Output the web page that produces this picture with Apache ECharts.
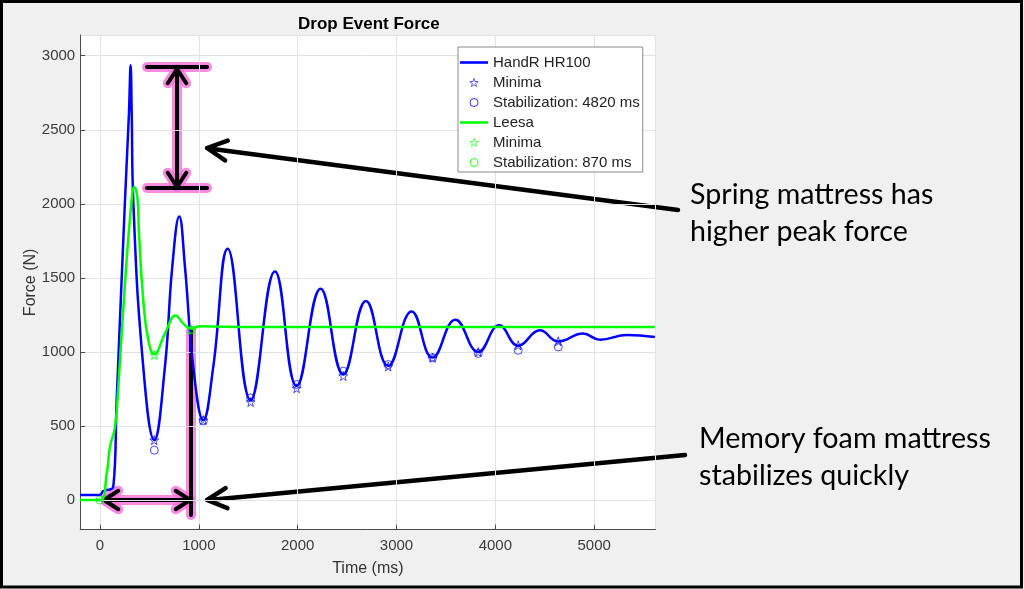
<!DOCTYPE html>
<html><head><meta charset="utf-8">
<script src="https://cdn.jsdelivr.net/npm/echarts@6/dist/echarts.min.js"></script>
<style>html,body{margin:0;padding:0;background:#f0f0f0}#c{width:1024px;height:589px}</style>
</head><body><div id="c"></div>
<script>
// HandR HR100 force curve (time ms, force N)
const hrTime = [-200, 0, 30, 135, 169, 253, 293, 310, 321, 337, 438, 549, 657, 731, 802, 860, 944, 1045, 1146, 1292, 1524, 1770, 1990, 2232, 2461, 2691, 2916, 3153, 3365, 3596, 3827, 4039, 4231, 4451, 4636, 4886, 5058, 5331, 5614];
const hrForce = [34, 34, 60, 90, 674, 2023, 2609, 2935, 2609, 2023, 899, 405, 899, 1573, 1915, 1573, 899, 539, 899, 1697, 675, 1544, 770, 1427, 850, 1344, 905, 1274, 962, 1218, 1000, 1180, 1042, 1146, 1070, 1124, 1083, 1115, 1101];
// HandR minima and stabilization markers
const hrMinT = [549, 1045, 1524, 1990, 2461, 2916, 3365, 3827, 4231, 4636];
const hrMinF = [405, 540, 662, 755, 838, 902, 960, 1000, 1045, 1072];
const hrStabT = [549, 1045, 1524, 1990, 2461, 2916, 3365, 3827, 4231, 4636];
const hrStabF = [337, 535, 690, 780, 870, 915, 962, 990, 1011, 1034];
// Leesa force curve
const leTime = [-200, 0, 68, 101, 152, 185, 253, 320, 347, 378, 395, 438, 489, 549, 657, 765, 843, 921, 1012, 1500, 2500, 3500, 4500, 5614];
const leForce = [0, 0, 180, 360, 494, 764, 1463, 2023, 2113, 2045, 1798, 1349, 1079, 984, 1124, 1247, 1191, 1158, 1173, 1168, 1168, 1168, 1168, 1168];
const leMinT = [549, 925];
const leMinF = [980, 1150];
const leStabT = [0, 925];
const leStabF = [0, 1150];
// legend names
const legendNames = ['HandR HR100', 'Minima', 'Stabilization: 4820 ms', 'Leesa', 'Minima ', 'Stabilization: 870 ms'];

const zip = (a, b) => a.map((v, i) => [v, b[i]]);
const BLUE = '#0000ff', GREEN = '#00ff00';
const starPath = 'path://M10,0L12.35,6.76L19.51,6.91L13.8,11.24L15.88,18.09L10,14L4.12,18.09L6.2,11.24L0.49,6.91L7.65,6.76Z';
const linePath = 'path://M0,0L28,0L28,2.6L0,2.6Z';

function seg(x1, y1, x2, y2, stroke, w) {
  return { type: 'line', shape: { x1, y1, x2, y2 }, style: { stroke, lineWidth: w, lineCap: 'round' }, silent: true };
}
function poly(pts, stroke, w) {
  return { type: 'polyline', shape: { points: pts }, style: { stroke, lineWidth: w, lineCap: 'round', lineJoin: 'round', fill: null }, silent: true };
}
function head(tx, ty, fx, fy, len, ang) {
  const dx = fx - tx, dy = fy - ty, L = Math.hypot(dx, dy);
  const ux = dx / L, uy = dy / L, a = ang * Math.PI / 180;
  const c = Math.cos(a), s = Math.sin(a);
  return [[tx + len * (ux * c - uy * s), ty + len * (ux * s + uy * c)], [tx, ty], [tx + len * (ux * c + uy * s), ty + len * (-ux * s + uy * c)]];
}
const PINK = 'rgba(245,110,215,0.8)';
const glowShapes = [];
function glowSeg(x1, y1, x2, y2) { glowShapes.push({ kind: 'seg', p: [x1, y1, x2, y2] }); }
function glowPoly(pts) { glowShapes.push({ kind: 'poly', p: pts }); }
// bracket 1 (peak difference)
glowSeg(147, 67, 207, 67); glowSeg(147, 188, 207, 188); glowSeg(177, 70, 177, 186);
glowPoly(head(177, 69, 177, 188, 17, 33)); glowPoly(head(177, 187, 177, 67, 17, 33));
// bracket 2 (stabilization time)
glowSeg(105, 500, 190, 500); glowSeg(191, 331, 191, 515);
glowPoly(head(104, 500, 191, 500, 17, 33)); glowPoly(head(190, 500, 104, 500, 17, 33));

const graphics = [];
glowShapes.forEach(g => {
  if (g.kind === 'seg') graphics.push(seg(g.p[0], g.p[1], g.p[2], g.p[3], PINK, 10));
  else graphics.push(poly(g.p, PINK, 10));
});
glowShapes.forEach(g => {
  if (g.kind === 'seg') graphics.push(seg(g.p[0], g.p[1], g.p[2], g.p[3], '#000', 4));
  else graphics.push(poly(g.p, '#000', 4));
});
// black pointer arrows
graphics.push(seg(209, 148.5, 678, 210, '#000', 4.5));
graphics.push(poly(head(207, 148, 678, 210, 22, 27), '#000', 4.5));
graphics.push(seg(209, 500, 685, 455, '#000', 4.5));
graphics.push(poly(head(207, 500, 685, 455, 22, 27), '#000', 4.5));
// annotation texts
graphics.push({ type: 'text', x: 690, y: 176, silent: true, style: { text: 'Spring mattress has\nhigher peak force', font: '28.6px Lato', lineHeight: 37, fill: '#000' } });
graphics.push({ type: 'text', x: 699, y: 420, silent: true, style: { text: 'Memory foam mattress\nstabilizes quickly', font: '28.7px Lato', lineHeight: 37, fill: '#000' } });
// outer frame
graphics.push({ type: 'rect', shape: { x: 1.5, y: 1.5, width: 1020, height: 585.5 }, style: { fill: null, stroke: '#000', lineWidth: 3 }, silent: true });

const axisCol = '#4a4a4a';
const noComma = v => String(v);
const hollow = (c, w) => ({ color: 'rgba(255,255,255,0)', borderColor: c, borderWidth: w });
const chart = echarts.init(document.getElementById('c'), null, { renderer: 'canvas' });
chart.setOption({
  animation: false,
  backgroundColor: '#f0f0f0',
  title: { text: 'Drop Event Force', left: 293, top: 11, textStyle: { fontFamily: 'Liberation Sans', fontSize: 17, fontWeight: 'bold', color: '#000' } },
  grid: { left: 80.2, right: 368.5, top: 35, bottom: 59.3, show: true, backgroundColor: '#fff', borderWidth: 0 },
  legend: {
    orient: 'vertical', left: 458, top: 47, padding: [8, 3, 2, 2], itemGap: 5,
    itemWidth: 28, itemHeight: 8, selectedMode: false,
    backgroundColor: '#fff', borderColor: '#8a8a8a', borderWidth: 1,
    textStyle: { fontFamily: 'Liberation Sans', fontSize: 15, color: '#222', lineHeight: 15 },
    data: [
      { name: legendNames[0], icon: linePath },
      { name: legendNames[1], icon: starPath, itemStyle: hollow(BLUE, 0.8) },
      { name: legendNames[2], icon: 'circle', itemStyle: hollow(BLUE, 1) },
      { name: legendNames[3], icon: linePath },
      { name: legendNames[4], icon: starPath, itemStyle: hollow(GREEN, 0.8) },
      { name: legendNames[5], icon: 'circle', itemStyle: hollow(GREEN, 1) }
    ]
  },
  xAxis: {
    type: 'value', min: -200, max: 5620, splitNumber: 6,
    name: 'Time (ms)', nameLocation: 'middle', nameGap: 31, nameMoveOverlap: false,
    nameTextStyle: { fontFamily: 'Liberation Sans', fontSize: 16, color: '#333' },
    axisLine: { show: true, onZero: false, lineStyle: { color: axisCol, width: 1 } },
    axisTick: { show: true, inside: true, length: 5, lineStyle: { color: axisCol } },
    axisLabel: { formatter: noComma, showMinLabel: false, showMaxLabel: false, margin: 9, fontFamily: 'Liberation Sans', fontSize: 15, color: '#3a3a3a' },
    splitLine: { show: true, lineStyle: { color: '#e3e3e3', width: 1 } }
  },
  yAxis: {
    type: 'value', min: -200, max: 3140, splitNumber: 7,
    name: 'Force (N)', nameLocation: 'middle', nameGap: 42, nameRotate: 90, nameMoveOverlap: false,
    nameTextStyle: { fontFamily: 'Liberation Sans', fontSize: 16, color: '#333' },
    axisLine: { show: true, onZero: false, lineStyle: { color: axisCol, width: 1 } },
    axisTick: { show: true, inside: true, length: 5, lineStyle: { color: axisCol } },
    axisLabel: { formatter: noComma, showMinLabel: false, showMaxLabel: false, margin: 5, fontFamily: 'Liberation Sans', fontSize: 15, color: '#3a3a3a' },
    splitLine: { show: true, lineStyle: { color: '#e3e3e3', width: 1 } }
  },
  series: [
    { name: legendNames[0], type: 'line', data: zip(hrTime, hrForce), showSymbol: false, smooth: 0.45, lineStyle: { color: BLUE, width: 2.5 }, itemStyle: { color: BLUE }, z: 2 },
    { name: legendNames[1], type: 'scatter', data: zip(hrMinT, hrMinF), symbol: starPath, symbolSize: 9, itemStyle: hollow(BLUE, 0.9), z: 3 },
    { name: legendNames[2], type: 'scatter', data: zip(hrStabT, hrStabF), symbol: 'circle', symbolSize: 8, itemStyle: hollow(BLUE, 0.9), z: 3 },
    { name: legendNames[3], type: 'line', data: zip(leTime, leForce), showSymbol: false, smooth: 0.45, lineStyle: { color: GREEN, width: 2.5 }, itemStyle: { color: GREEN }, z: 4 },
    { name: legendNames[4], type: 'scatter', data: zip(leMinT, leMinF), symbol: starPath, symbolSize: 9, itemStyle: hollow(GREEN, 0.9), z: 5 },
    { name: legendNames[5], type: 'scatter', data: zip(leStabT, leStabF), symbol: 'circle', symbolSize: 8, itemStyle: hollow(GREEN, 0.9), z: 5 }
  ],
  graphic: { elements: graphics }
});
</script></body></html>
